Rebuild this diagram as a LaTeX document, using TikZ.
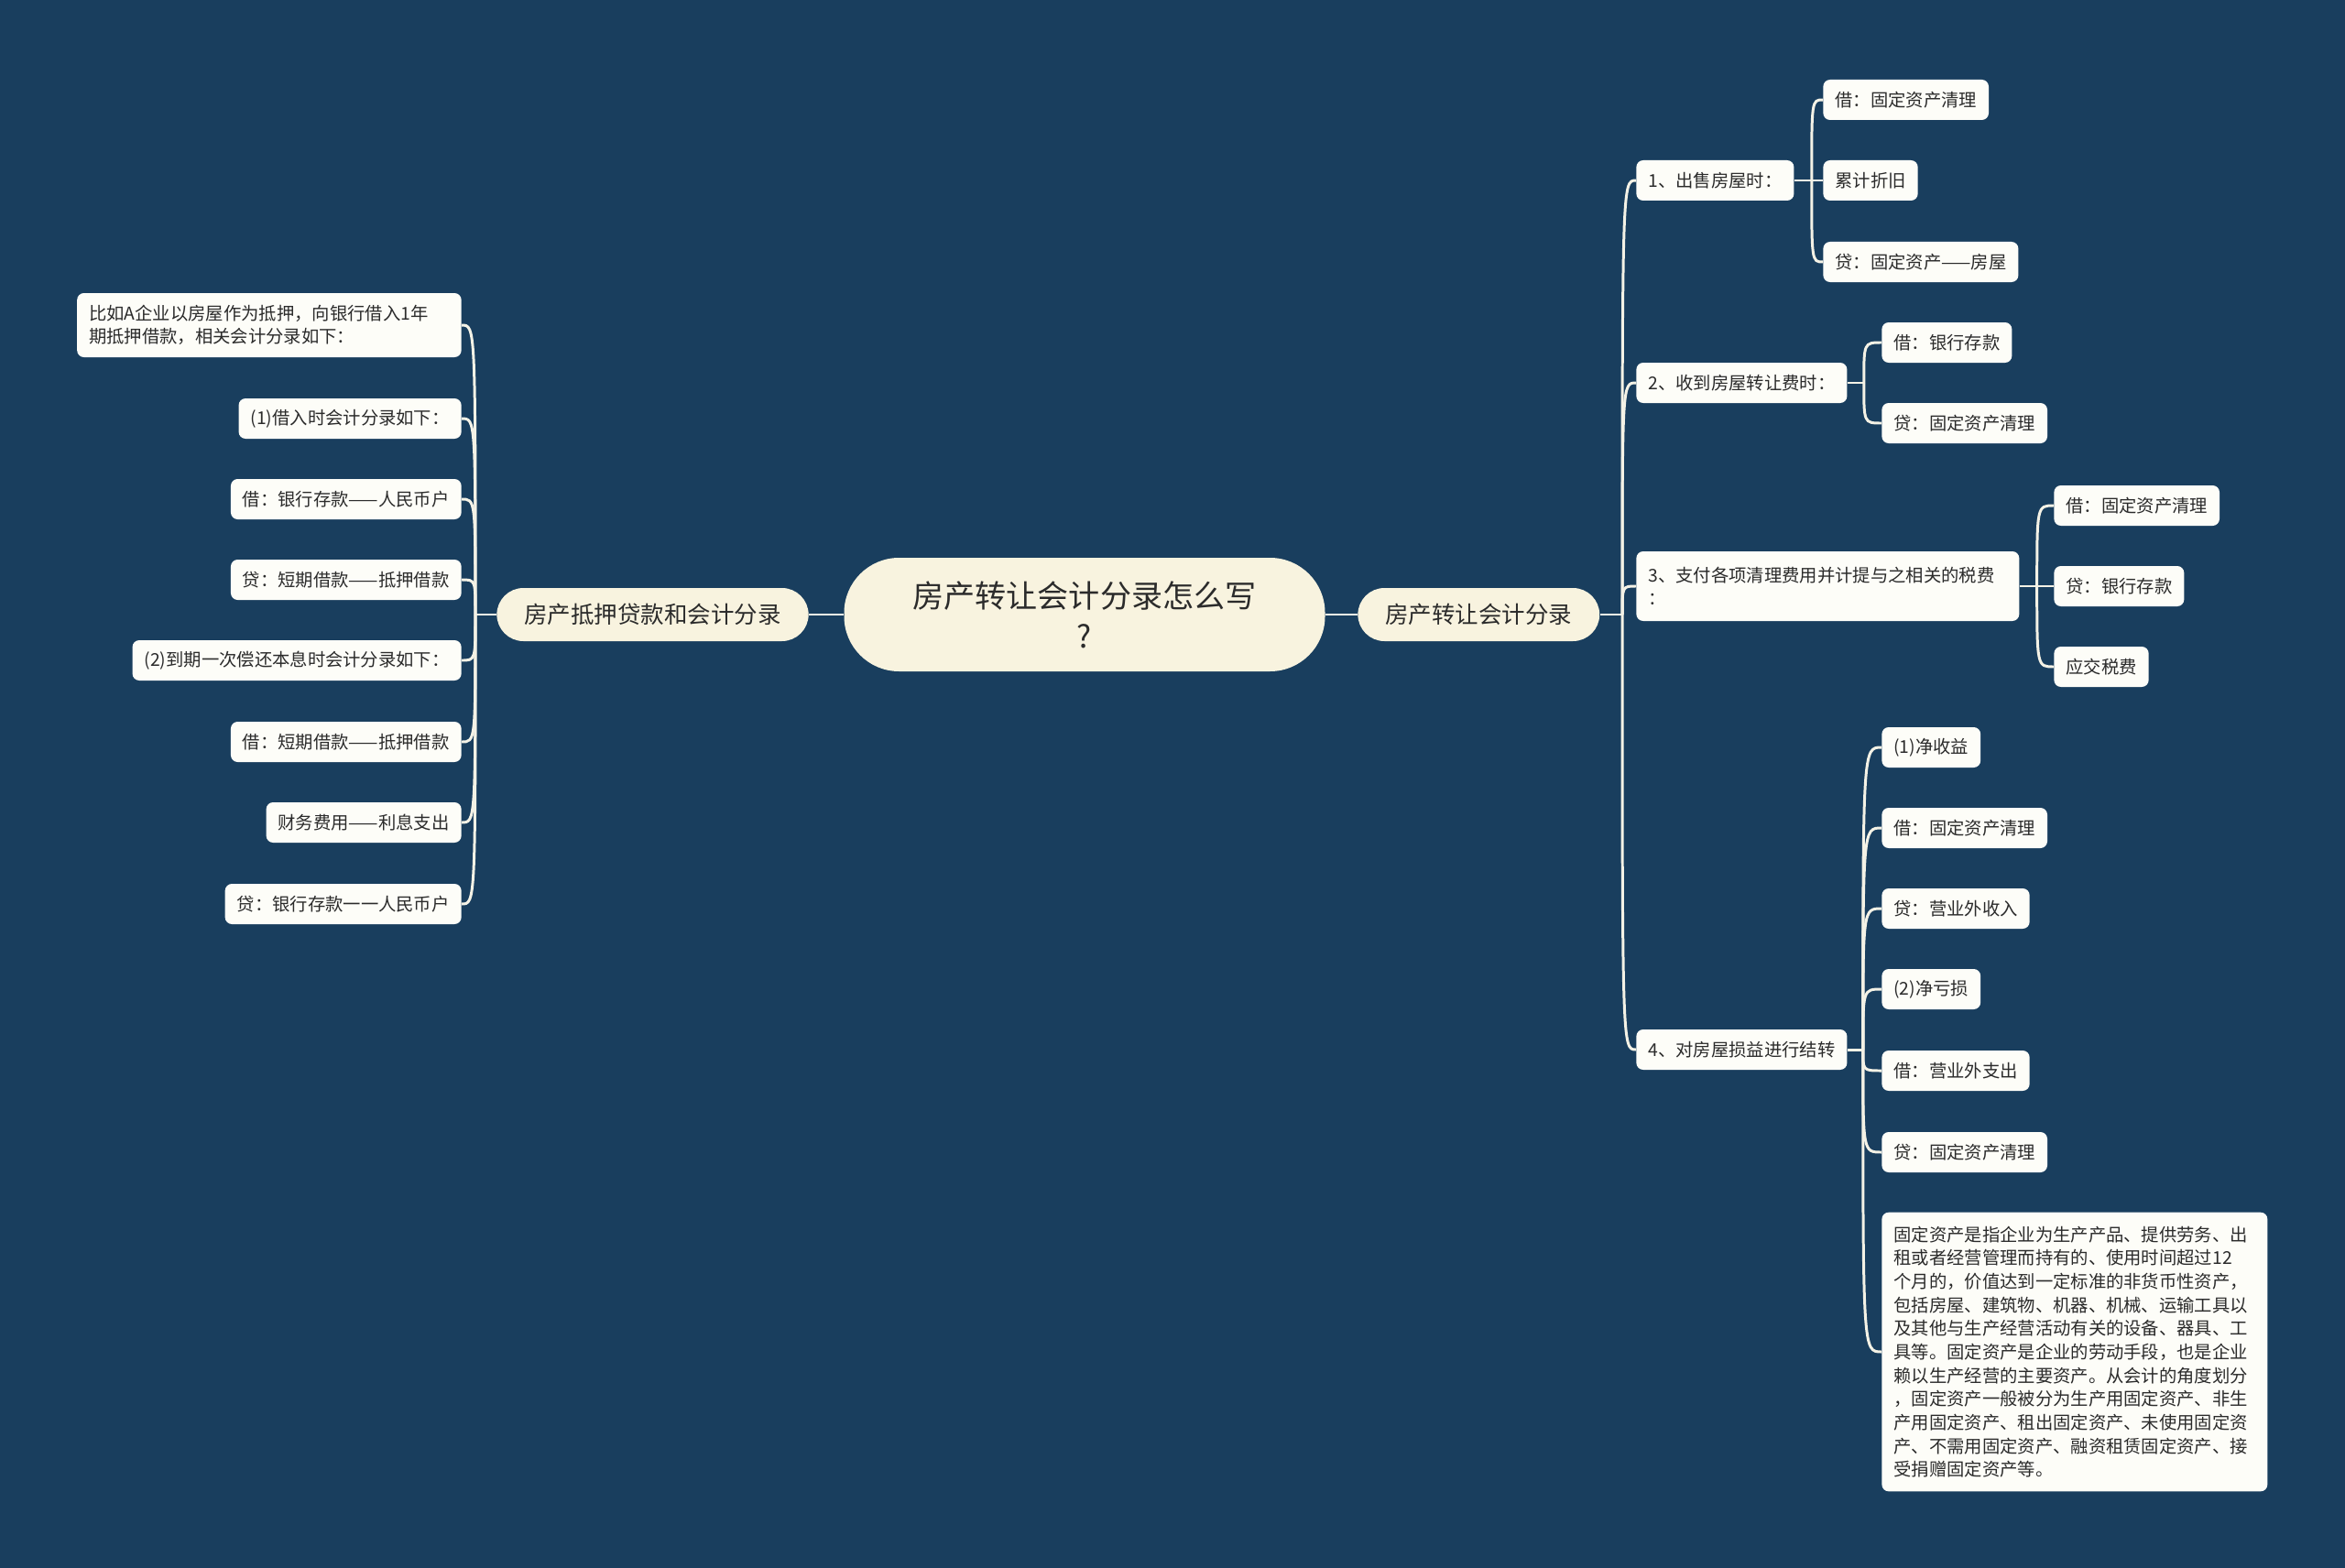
\documentclass[tikz,border=0pt]{standalone}
\usepackage{fontspec}
\setmainfont{Noto Sans CJK SC}
\usepackage{xcolor}
\usepackage{tikz}
\usetikzlibrary{positioning}

\definecolor{bgnavy}{HTML}{193E5E}
\definecolor{cream}{HTML}{F8F3DF}
\definecolor{paper}{HTML}{FDFDF8}
\definecolor{wirecol}{HTML}{F4F2E6}
\definecolor{ink}{HTML}{2B2B2B}

\begin{document}
\begin{tikzpicture}[
    root/.style={fill=cream, rounded corners=1.2cm, minimum height=2.48cm,
                 inner xsep=1.5cm, align=center, text=ink,
                 font=\fontsize{19.4}{25}\selectfont},
    topic/.style={fill=cream, rounded corners=0.58cm, minimum height=1.16cm,
                  inner xsep=0.6cm, text=ink, font=\fontsize{14.5}{18}\selectfont},
    leaf/.style={fill=paper, rounded corners=0.15cm, minimum height=0.88cm,
                 inner xsep=0.26cm, inner ysep=0.2cm, align=left, text=ink,
                 font=\fontsize{11}{14.6}\selectfont},
    wire/.style={draw=wirecol, line width=1.7pt,
                 to path={.. controls (\tikztostart |- \tikztotarget)
                          and (\tikztostart |- \tikztotarget) .. (\tikztotarget)}}
]
% Background
\fill[bgnavy] (0,0) rectangle (51.2,-34.24);
\useasboundingbox (0,0) rectangle (51.2,-34.24);

% Centre and the two topics
\node[root] (title) at (23.68,-13.42) {房产转让会计分录怎么写\\?};
\node[topic, anchor=west] (deal) at (29.64,-13.42) {房产转让会计分录};
\node[topic, anchor=east] (loan) at (17.66,-13.42) {房产抵押贷款和会计分录};

% Right side: steps
\node[leaf, anchor=west] (sell) at (35.72,-3.94) {1、出售房屋时：};
\node[leaf, anchor=west] (fee)  at (35.72,-8.36) {2、收到房屋转让费时：};
\node[leaf, anchor=west, minimum height=1.52cm, text width=7.84cm] (tax) at (35.72,-12.8)
     {3、支付各项清理费用并计提与之相关的税费\\：};
\node[leaf, anchor=west] (gain) at (35.72,-22.92) {4、对房屋损益进行结转};

% Entries of step 1
\node[leaf, anchor=west] (s1) at (39.8,-2.18) {借：固定资产清理};
\node[leaf, anchor=west] (s2) at (39.8,-3.94) {累计折旧};
\node[leaf, anchor=west] (s3) at (39.8,-5.72) {贷：固定资产——房屋};

% Entries of step 2
\node[leaf, anchor=west] (f1) at (41.08,-7.48) {借：银行存款};
\node[leaf, anchor=west] (f2) at (41.08,-9.24) {贷：固定资产清理};

% Entries of step 3
\node[leaf, anchor=west] (t1) at (44.84,-11.04) {借：固定资产清理};
\node[leaf, anchor=west] (t2) at (44.84,-12.8)  {贷：银行存款};
\node[leaf, anchor=west] (t3) at (44.84,-14.56) {应交税费};

% Entries of step 4
\node[leaf, anchor=west] (g1) at (41.08,-16.32) {(1)净收益};
\node[leaf, anchor=west] (g2) at (41.08,-18.08) {借：固定资产清理};
\node[leaf, anchor=west] (g3) at (41.08,-19.84) {贷：营业外收入};
\node[leaf, anchor=west] (g4) at (41.08,-21.6)  {(2)净亏损};
\node[leaf, anchor=west] (g5) at (41.08,-23.38) {借：营业外支出};
\node[leaf, anchor=west] (g6) at (41.08,-25.16) {贷：固定资产清理};
\node[leaf, anchor=west, inner ysep=0.3cm, text width=7.9cm] (g7) at (41.08,-29.52)
     {固定资产是指企业为生产产品、提供劳务、出\\
      租或者经营管理而持有的、使用时间超过12\\
      个月的，价值达到一定标准的非货币性资产，\\
      包括房屋、建筑物、机器、机械、运输工具以\\
      及其他与生产经营活动有关的设备、器具、工\\
      具等。固定资产是企业的劳动手段，也是企业\\
      赖以生产经营的主要资产。从会计的角度划分\\
      ，固定资产一般被分为生产用固定资产、非生\\
      产用固定资产、租出固定资产、未使用固定资\\
      产、不需用固定资产、融资租赁固定资产、接\\
      受捐赠固定资产等。};

% Left side: mortgage entries
\node[leaf, anchor=east, minimum height=1.4cm, text width=7.87cm] (m1) at (10.08,-7.1)
     {比如A企业以房屋作为抵押，向银行借入1年\\期抵押借款，相关会计分录如下：};
\node[leaf, anchor=east] (m2) at (10.08,-9.14)  {(1)借入时会计分录如下：};
\node[leaf, anchor=east] (m3) at (10.08,-10.9)  {借：银行存款——人民币户};
\node[leaf, anchor=east] (m4) at (10.08,-12.66) {贷：短期借款——抵押借款};
\node[leaf, anchor=east] (m5) at (10.08,-14.42) {(2)到期一次偿还本息时会计分录如下：};
\node[leaf, anchor=east] (m6) at (10.08,-16.2)  {借：短期借款——抵押借款};
\node[leaf, anchor=east] (m7) at (10.08,-17.96) {财务费用——利息支出};
\node[leaf, anchor=east] (m8) at (10.08,-19.74) {贷：银行存款一一人民币户};

% Branch points
\coordinate (dj) at (35.42,-13.42);
\coordinate (lj) at (10.38,-13.42);
\coordinate (sj) at ([xshift=0.38cm]sell.east);
\coordinate (fj) at ([xshift=0.36cm]fee.east);
\coordinate (tj) at ([xshift=0.38cm]tax.east);
\coordinate (gj) at ([xshift=0.34cm]gain.east);

% Links
\draw[wire] (title.east) -- (deal.west);
\draw[wire] (title.west) -- (loan.east);

\draw[wire] (deal.east) -- (dj);
\draw[wire] (dj) to (sell.west);
\draw[wire] (dj) to (fee.west);
\draw[wire] (dj) to (tax.west);
\draw[wire] (dj) to (gain.west);

\draw[wire] (sell.east) -- (sj);
\draw[wire] (sj) to (s1.west);
\draw[wire] (sj) to (s2.west);
\draw[wire] (sj) to (s3.west);

\draw[wire] (fee.east) -- (fj);
\draw[wire] (fj) to (f1.west);
\draw[wire] (fj) to (f2.west);

\draw[wire] (tax.east) -- (tj);
\draw[wire] (tj) to (t1.west);
\draw[wire] (tj) to (t2.west);
\draw[wire] (tj) to (t3.west);

\draw[wire] (gain.east) -- (gj);
\draw[wire] (gj) to (g1.west);
\draw[wire] (gj) to (g2.west);
\draw[wire] (gj) to (g3.west);
\draw[wire] (gj) to (g4.west);
\draw[wire] (gj) to (g5.west);
\draw[wire] (gj) to (g6.west);
\draw[wire] (gj) to (g7.west);

\draw[wire] (loan.west) -- (lj);
\draw[wire] (lj) to (m1.east);
\draw[wire] (lj) to (m2.east);
\draw[wire] (lj) to (m3.east);
\draw[wire] (lj) to (m4.east);
\draw[wire] (lj) to (m5.east);
\draw[wire] (lj) to (m6.east);
\draw[wire] (lj) to (m7.east);
\draw[wire] (lj) to (m8.east);
\end{tikzpicture}
\end{document}
